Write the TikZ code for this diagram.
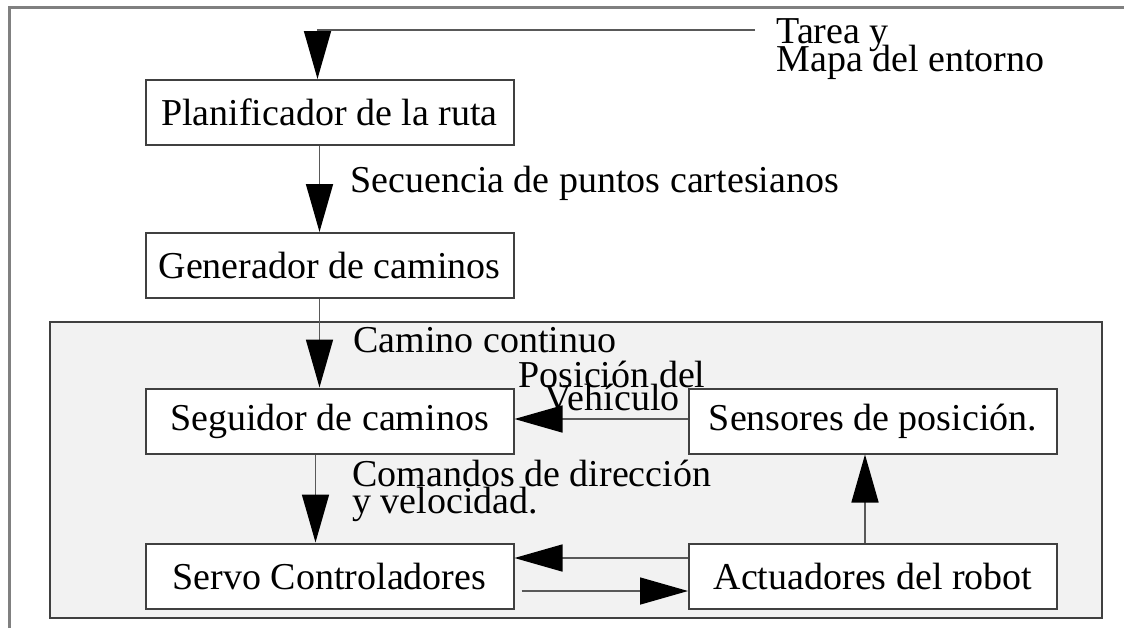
\documentclass[tikz,border=0pt]{standalone}
\usepackage{fontspec}
\setmainfont{Liberation Serif}
\usetikzlibrary{arrows.meta}
\newcommand{\tightlines}{\lineskiplimit-30pt\relax\lineskip0pt\relax}
\begin{document}
\begin{tikzpicture}[x=0.5pt,y=-0.5pt,
  blk/.style={draw=black!75,line width=1pt,fill=white,minimum width=184pt,minimum height=32.5pt,inner sep=0pt,font=\fontsize{19}{22}\selectfont},
  arr/.style={draw=black!65,line width=0.8pt,-{Triangle[length=24pt,width=13.5pt,color=black,fill=black]}},
  lbl/.style={inner sep=0pt,anchor=base west,font=\fontsize{19}{22}\selectfont},
  tight/.style={font={\fontsize{19}{#1}\selectfont\tightlines}}]
\useasboundingbox (0,0) rectangle (1124,628);
\draw[black!50,line width=1.2pt] (9.5,628)--(9.5,7.5)--(1124,7.5);
\draw[black!75,fill=black!5,line width=1pt] (50,322) rectangle (1102,618);
\path
(329.5,112.5) node[blk] (plan) {Planificador de la ruta}
(329.5,265.5) node[blk] (gen) {Generador de caminos}
(329.5,421) node[blk] (seg) {Seguidor de caminos}
(873,421) node[blk] (sens) {Sensores de posición.}
(329.5,576) node[blk] (servo) {Servo Controladores}
(873,576) node[blk] (act) {Actuadores del robot}
;
\coordinate (tin) at (755,30);
% multi-line labels sit on their last line
\path
(350,192) node[lbl] (secu) {Secuencia de puntos cartesianos}
(353,352) node[lbl] (cont) {Camino continuo}
(776,71) node[lbl,align=left,tight=14pt] (tarea) {Tarea y\\Mapa del entorno}
(612,410) node[lbl,anchor=base,align=center,tight=11.5pt] (posv) {Posición del\\Vehículo}
(352,513) node[lbl,align=left,tight=13.5pt] (coms) {Comandos de dirección\\y velocidad.}
;
\draw[arr] (tin) -| ([xshift=-6pt]plan.north);
\draw[arr] ([xshift=-5pt]plan.south) -- ([xshift=-5pt]gen.north);
\draw[arr] ([xshift=-5pt]gen.south) -- ([xshift=-5pt]seg.north);
\draw[arr] ([xshift=-7pt]seg.south) -- ([xshift=-7pt]servo.north);
\draw[arr] ([yshift=1pt]sens.west) -- ([yshift=1pt]seg.east);
\draw[arr] ([yshift=9pt]act.west) -- ([yshift=9pt]servo.east);
\draw[arr,shorten <=3.5pt] ([yshift=-7.5pt]servo.east) -- ([yshift=-7.5pt]act.west);
\draw[arr] ([xshift=-4pt]act.north) -- ([xshift=-4pt]sens.south);
\end{tikzpicture}
\end{document}
